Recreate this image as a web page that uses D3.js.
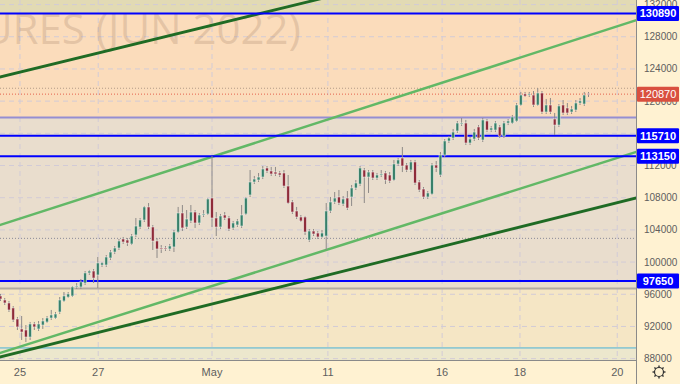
<!DOCTYPE html>
<html>
<head>
<meta charset="utf-8">
<script src="https://cdn.jsdelivr.net/npm/d3@7"></script>
<style>
  html, body { margin: 0; padding: 0; background: #fff2d2; }
  svg { display: block; font-family: "Liberation Sans", Arial, sans-serif; }
</style>
</head>
<body>
<svg id="chart" width="680" height="384"></svg>
<script>
// candles, one per bar index
const openP = [95790,95290,94920,94300,92930,91690,91560,90690,92310,91690,
  92180,92560,93050,93050,93800,95170,95660,95790,96910,96910,
  97400,98650,98890,98400,99640,99640,100510,101250,101750,102870,
  102740,102250,103370,104360,105230,106850,104360,102620,101750,101750,
  101630,101880,103740,106100,104360,105110,106220,104860,105850,105980,
  107960,105480,104360,105850,105480,104240,104610,104480,105980,108340,
  109950,110200,110570,111690,111320,111190,111070,111070,109450,107470,
  106350,105600,105600,102740,103860,103610,103120,103240,106350,107470,
  108090,107220,107960,108090,109210,109700,111440,110570,111190,110450,
  110820,111070,110820,110200,112190,112930,112060,111440,112440,109950,
  109080,108090,108460,112060,110820,113310,115050,115420,116290,117160,
  117280,114800,115290,116790,115170,117530,116410,116410,116790,115670,
  117280,117280,117530,119520,120890,120760,120760,119520,121010,118650,
  119520,117780,117030,119520,119150,118650,118900,119770,119640,120950];
const highP = [96040,95540,95170,94540,93180,93300,92180,92560,92560,92680,
  93050,93300,94050,93800,95660,96280,96280,97030,97400,97900,
  98890,99020,99140,100630,100010,100880,101500,102000,102870,103120,
  102990,103490,105480,105480,106970,107340,104610,102990,102120,102000,
  102250,103990,106850,107090,106470,107090,106470,106100,106470,107960,
  113180,106220,105980,106220,105730,105110,105350,107090,108090,111440,
  110700,111070,111940,111940,111820,111820,111320,111440,110820,107710,
  106850,105850,105730,104110,104110,103860,103990,107340,108090,108710,
  108960,108210,108830,109580,110200,111940,111690,111440,111440,111070,
  111440,111320,111190,112690,112930,114300,112310,112690,112690,110200,
  109330,108830,112310,112560,113680,115290,115670,116540,117530,117900,
  117660,115540,116540,117030,117910,117780,116910,117530,117030,117530,
  117780,118280,119770,121140,121140,121140,121260,121630,121260,120270,
  120390,118530,119640,120140,119770,119400,120140,120390,121140,121140];
const lowP = [95170,94670,93800,92560,91560,90320,90070,90320,91560,91440,
  91690,92430,92810,92930,93550,95040,95540,95660,96660,96660,
  97150,98400,97400,96780,99390,99390,100260,101000,101500,102250,
  102000,102120,103120,104110,104980,104110,101500,100510,101130,101380,
  101380,101250,103610,103860,104110,104860,104240,104610,105600,105850,
  104360,103240,104110,105230,103860,103990,104360,104240,105850,108090,
  109700,109950,110320,111070,110700,110700,110570,109210,107220,105980,
  105350,104980,103370,102500,103240,102870,102990,101500,106100,107220,
  107090,106970,106470,106970,108960,109450,107340,108590,110200,110200,
  110570,109700,109830,110080,111940,111190,111190,111190,109580,108710,
  107840,107840,108340,111190,110570,113060,114800,115170,116040,116910,
  114550,114550,115050,115170,114920,116160,116160,116160,115420,115420,
  117030,117160,117410,119400,120510,120510,119270,119400,118400,118400,
  118400,115790,116790,118280,118280,118400,118650,119520,119400,120510];
const closeP = [95410,94920,94050,92810,91940,91310,90690,92310,91940,92310,
  92680,93050,93430,93550,95290,95790,96040,96910,97030,97530,
  98650,98890,98020,99890,99890,100630,101250,101750,102620,102500,
  102370,103240,104480,105230,106850,104360,102620,101630,101630,101630,
  102000,103740,106100,104240,105350,106220,104860,105850,105980,107840,
  105480,104360,105730,105480,104110,104860,105110,105850,107960,109950,
  110320,110570,111570,111320,110950,110950,110820,109450,107340,106220,
  105600,105110,103740,103860,103490,103120,103610,106350,107470,107960,
  107340,107840,106720,109210,109830,111690,110570,111190,110450,110820,
  110950,110200,110080,112190,112690,111940,111440,112440,109830,108960,
  108090,108590,112060,111690,113310,115050,115420,116160,117280,117280,
  114800,115290,116160,115420,117660,116410,116660,117280,115670,117280,
  117530,118030,119520,120760,120640,120890,119520,121010,118650,119520,
  118650,117030,119400,118530,118530,119020,119770,120020,120760,120870];

// axis labels
const priceTicks = [88000, 92000, 96000, 100000, 104000, 108000, 112000, 116000, 120000, 124000, 128000, 132000];
const dateLabels = ["25", "27", "May", "11", "16", "18", "20"];
const dateIndex = [4.6, 23.1, 50, 77.4, 104.4, 122.8, 145.8];

// drawn levels
const blueLevels = [130890, 115710, 113150, 97650];
const lastPrice = 120870;
const sessionHigh = 121600;
const dottedLevel = 102950;
const purpleLevel = 117970;
const grayLevel = 96720;
const cyanLevel = 89330;

// zones between levels (top, bottom)
const zoneTops = [132600, 130890, 117970, 96720, 89330];
const zoneBottoms = [130890, 117970, 96720, 89330, 87800];
const zoneColors = ["#e2dab4", "#fbdcbb", "#e9ddcd", "#f5e6c5", "#ece7cd"];

// trend lines as [bar index, price] pairs
const darkTrendA = [[-1, 122890], [151, 142380]];
const darkTrendB = [[-1, 88090], [151, 108060]];
const lightTrendA = [[-1, 104460], [151, 130180]];
const lightTrendB = [[-1, 88550], [151, 113800]];

const W = 680, H = 384, plotW = 636, plotH = 360;
const svg = d3.select("#chart");

const x = d3.scaleLinear().domain([0, 139]).range([0.5, 588.5]);
const y = d3.scaleLinear().domain([87833, 132567]).range([plotH, 0]);

svg.append("rect").attr("width", W).attr("height", H).attr("fill", "#fff2d2");

svg.append("defs").append("clipPath").attr("id", "plot")
   .append("rect").attr("width", plotW).attr("height", plotH);

const plot = svg.append("g").attr("clip-path", "url(#plot)");

// zones
plot.selectAll(".zone")
    .data(zoneColors)
    .enter().append("rect")
    .attr("class", "zone")
    .attr("x", 0)
    .attr("width", plotW)
    .attr("y", (d, i) => y(zoneTops[i]))
    .attr("height", (d, i) => y(zoneBottoms[i]) - y(zoneTops[i]))
    .attr("fill", d => d);

// grid
plot.selectAll(".hgrid")
    .data(priceTicks)
    .enter().append("line")
    .attr("x1", 0).attr("x2", plotW)
    .attr("y1", d => y(d)).attr("y2", d => y(d))
    .attr("stroke", "#d2cbd6")
    .attr("stroke-dasharray", "5,4");

plot.selectAll(".vgrid")
    .data(dateIndex)
    .enter().append("line")
    .attr("x1", d => x(d)).attr("x2", d => x(d))
    .attr("y1", 0).attr("y2", plotH)
    .attr("stroke", "#d2cbd6")
    .attr("stroke-dasharray", "5,4");

// watermark
plot.append("text")
    .attr("x", 301)
    .attr("y", 44)
    .attr("text-anchor", "end")
    .style("font-family", "'Open Sans', 'DejaVu Sans', sans-serif")
    .style("font-size", "42px")
    .attr("fill", "rgba(170,135,110,0.28)")
    .text("FUTURES (JUN 2022)");

// plain levels
function hline(price, colour, width, dash) {
    plot.append("line")
        .attr("x1", 0).attr("x2", plotW)
        .attr("y1", y(price)).attr("y2", y(price))
        .attr("stroke", colour)
        .attr("stroke-width", width)
        .attr("stroke-dasharray", dash || null);
}

hline(purpleLevel, "#958ed2", 2);
hline(grayLevel, "#b2aaa2", 2);
hline(cyanLevel, "#4ab2d8", 1);
hline(dottedLevel, "#8a8a96", 1, "1,2");
hline(sessionHigh, "#b39a88", 1, "1,2");
hline(lastPrice, "#e4604c", 1, "1,2");

// trend lines
const trend = d3.line().x(d => x(d[0])).y(d => y(d[1]));
[[darkTrendA, "#1f6b24", 2.8], [darkTrendB, "#1f6b24", 2.8], [lightTrendA, "#62b866", 2.5], [lightTrendB, "#62b866", 2.5]]
    .forEach(([pts, colour, w]) => {
        plot.append("path")
            .attr("d", trend(pts))
            .attr("fill", "none")
            .attr("stroke", colour)
            .attr("stroke-width", w);
    });

// blue levels
blueLevels.forEach(d => hline(d, "#0000ff", 2));

// candles
const candles = plot.selectAll(".candle")
    .data(d3.range(openP.length))
    .enter().append("g")
    .attr("class", "candle");

candles.append("line")
    .attr("x1", i => x(i)).attr("x2", i => x(i))
    .attr("y1", i => y(highP[i])).attr("y2", i => y(lowP[i]))
    .attr("stroke", "#8e8a88")
    .attr("stroke-width", 1);

candles.append("rect")
    .attr("x", i => x(i) - 1.4)
    .attr("width", 2.8)
    .attr("y", i => y(Math.max(openP[i], closeP[i])))
    .attr("height", i => Math.max(1, Math.abs(y(openP[i]) - y(closeP[i]))))
    .attr("fill", i => closeP[i] >= openP[i] ? "#37806a" : "#8f2b3a")
    .attr("stroke", "rgba(255,255,250,0.65)")
    .attr("stroke-width", 0.7);

// axis frame
svg.append("line").attr("x1", plotW + 0.5).attr("x2", plotW + 0.5)
   .attr("y1", 0).attr("y2", H).attr("stroke", "#8a8a8a");
svg.append("line").attr("x1", 0).attr("x2", plotW)
   .attr("y1", plotH + 0.5).attr("y2", plotH + 0.5).attr("stroke", "#8a8a8a");

// price axis
svg.selectAll(".ptick")
    .data(priceTicks)
    .enter().append("text")
    .attr("x", 644)
    .attr("y", d => y(d) + 3.5)
    .style("font-size", "10px")
    .attr("fill", "#5e5e5e")
    .text(d => d);

// date axis
svg.selectAll(".dtick")
    .data(dateLabels)
    .enter().append("text")
    .attr("x", (d, i) => x(dateIndex[i]))
    .attr("y", 376)
    .attr("text-anchor", "middle")
    .style("font-size", "11px")
    .attr("fill", "#5e5e5e")
    .text(d => d);

// price tags
function tag(price, fill, bold) {
    const g = svg.append("g").attr("transform", "translate(637," + y(price) + ")");
    g.append("rect").attr("x", 0).attr("y", -7.5).attr("width", 42).attr("height", 15)
     .attr("rx", 1).attr("fill", fill);
    g.append("text").attr("x", 21).attr("y", 4).attr("text-anchor", "middle")
     .style("font-size", "11px").style("font-weight", bold ? "bold" : "normal")
     .attr("fill", "#ffffff").text(price);
}
blueLevels.forEach(d => tag(d, "#0000ff", true));
tag(lastPrice, "#d9503f", false);

// settings gear
const gear = svg.append("g").attr("transform", "translate(659,372)");
gear.append("circle").attr("r", 4.5).attr("fill", "none").attr("stroke", "#333").attr("stroke-width", 1.2);
d3.range(8).forEach(k => {
    const a = k * Math.PI / 4;
    gear.append("line")
        .attr("x1", Math.cos(a) * 4.5).attr("y1", Math.sin(a) * 4.5)
        .attr("x2", Math.cos(a) * 6.5).attr("y2", Math.sin(a) * 6.5)
        .attr("stroke", "#333").attr("stroke-width", 1.4);
});
</script>
</body>
</html>
